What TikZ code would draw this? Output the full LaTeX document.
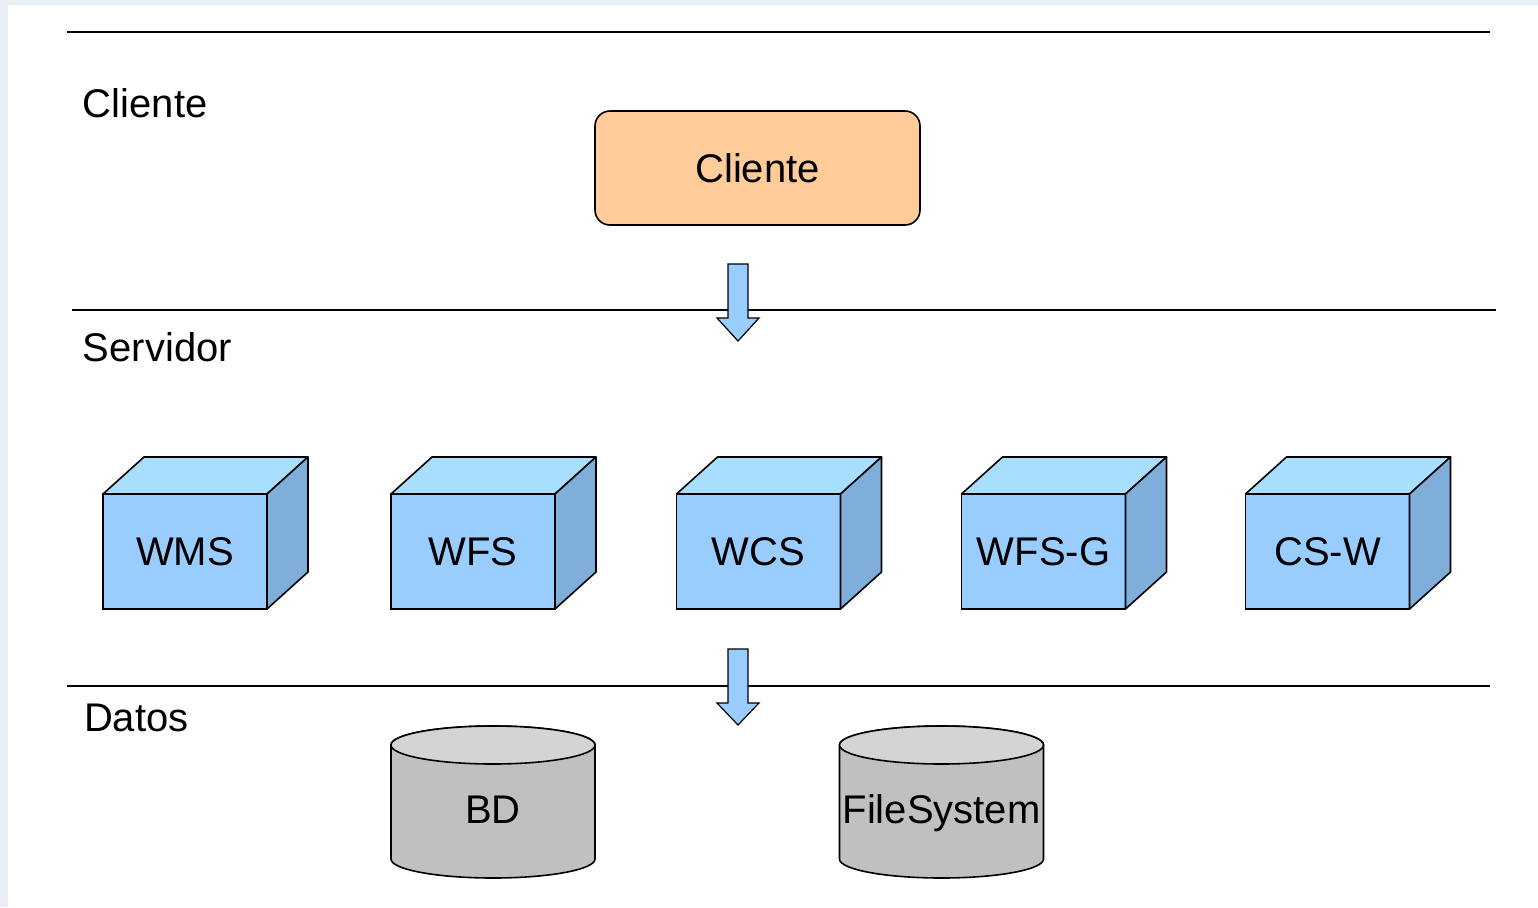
\documentclass[tikz,border=0pt]{standalone}
\usepackage{fontspec}
\setmainfont{Liberation Sans}
\definecolor{edgebg}{HTML}{E9EEF7}
\definecolor{frontc}{HTML}{99CCFF}
\definecolor{topc}{HTML}{A8DEFF}
\definecolor{sidec}{HTML}{80AEDA}
\definecolor{clientc}{HTML}{FFCC99}
\definecolor{cylbody}{HTML}{C0C0C0}
\definecolor{cyltop}{HTML}{D4D4D4}
\begin{document}
\begin{tikzpicture}[x=0.5pt,y=-0.5pt,
  every node/.style={font=\fontsize{20}{24}\selectfont, text=black, outer sep=0pt},
  layerline/.style={line width=1pt, black},
  layerlabel/.style={anchor=base west, inner sep=0pt},
  front/.style={draw=black, line width=0.8pt, fill=frontc, minimum width=82pt, minimum height=57.5pt, inner sep=0pt},
  topface/.style={draw=black, line width=0.8pt, fill=topc, line join=round},
  sideface/.style={draw=black, line width=0.8pt, fill=sidec, line join=round},
  clientbox/.style={draw=black, line width=0.8pt, fill=clientc, rounded corners=7.5pt, minimum width=162.5pt, minimum height=57pt},
  blockarrow/.style={draw=black, line width=0.6pt, fill=frontc, line join=miter},
  cylbodys/.style={draw=black, line width=0.8pt, fill=cylbody},
  cyltops/.style={draw=black, line width=0.8pt, fill=cyltop},
  cyltext/.style={anchor=base, inner sep=0pt}
]
\useasboundingbox (0,0) rectangle (1538,907);
% background
\fill[edgebg] (0,0) rectangle (1538,907);
\fill[white] (8,5) rectangle (1538,907);

% layer lines
\coordinate (l1a) at (67,32);  \coordinate (l1b) at (1490,32);
\coordinate (l2a) at (72,310); \coordinate (l2b) at (1496,310);
\coordinate (l3a) at (67,686); \coordinate (l3b) at (1490,686);
\draw[layerline] (l1a) -- (l1b);
\draw[layerline] (l2a) -- (l2b);
\draw[layerline] (l3a) -- (l3b);

% layer labels
\node[layerlabel] (lcli) at (83,117) {Cliente};
\node[layerlabel] (lser) at (83,361) {Servidor};
\node[layerlabel] (ldat) at (84,731) {Datos};

% client box
\node[clientbox] (cli) at (757.5,168) {Cliente};

% block arrows
\draw[blockarrow] (728,264) -- (748,264) -- (748,318) -- (759,318) -- (738,341) -- (717,318) -- (728,318) -- cycle;
\draw[blockarrow] (728,649) -- (748,649) -- (748,703) -- (759,703) -- (738,725) -- (717,703) -- (728,703) -- cycle;

% cubes
\foreach \nm/\cx/\lab in {wms/185/WMS, wfs/473/WFS, wcs/758.5/WCS, wfsg/1043.5/WFS-G, csw/1327.5/CS-W}{
  \node[front] (\nm) at (\cx,551.5) {\lab};
  \draw[topface] (\nm.north west) -- ++(20.5pt,18.5pt) -- ++(82pt,0pt) -- (\nm.north east) -- cycle;
  \draw[sideface] (\nm.north east) -- ++(20.5pt,18.5pt) -- ++(0pt,-57.5pt) -- (\nm.south east) -- cycle;
}

% cylinders
\foreach \nm/\cx/\lab in {bd/493/BD, fs/941.5/FileSystem}{
  \draw[cylbodys] (\cx-102,745) -- (\cx-102,859) arc[start angle=180,end angle=360,x radius=51pt,y radius=9.5pt] -- (\cx+102,745) arc[start angle=0,end angle=180,x radius=51pt,y radius=9.5pt] -- cycle;
  \draw[cyltops] (\cx,745) ellipse[x radius=51pt,y radius=9.5pt];
  \node[cyltext] (\nm) at (\cx,823) {\lab};
}
\end{tikzpicture}
\end{document}
